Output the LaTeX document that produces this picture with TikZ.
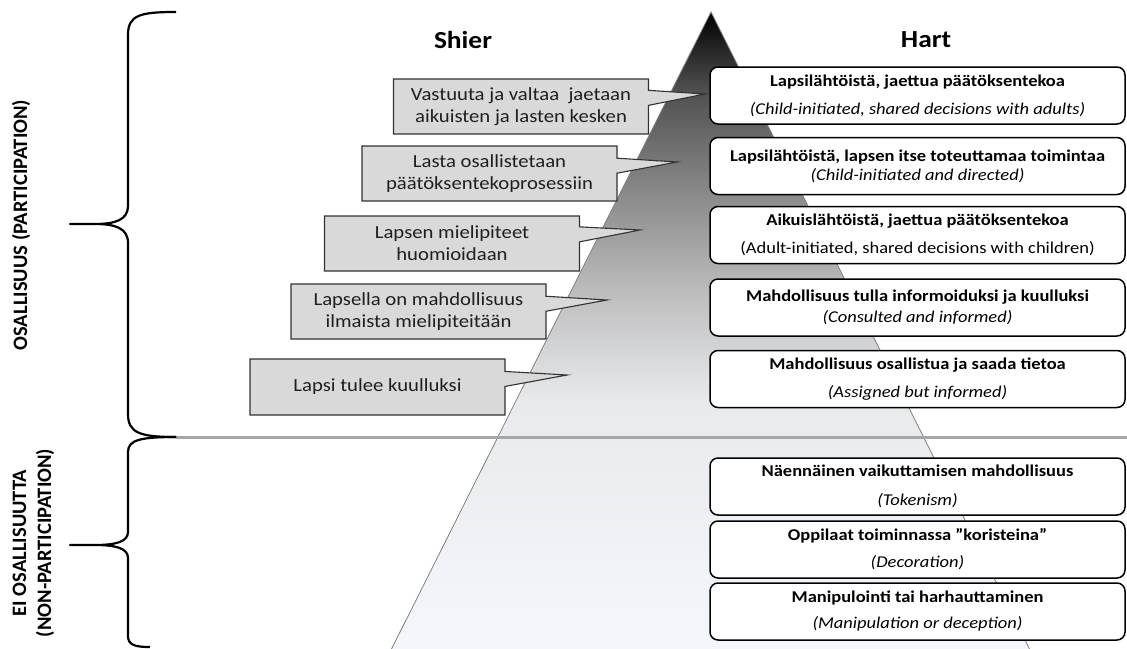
\documentclass[tikz,border=0pt]{standalone}
\usepackage{fontspec}
\setmainfont{Carlito}[FakeStretch=1.12]
\newfontfamily\sidefont{Carlito}
\usepackage{tikz}
\usetikzlibrary{shapes.callouts,positioning}
\definecolor{boxgray}{HTML}{D9D9D9}
\definecolor{rulegray}{HTML}{A6A6A6}
\definecolor{pyrlow}{HTML}{F4F8FC}
\definecolor{pyrmid}{HTML}{E8EAED}
\pgfdeclareverticalshading{pyramid}{100bp}{color(0bp)=(pyrlow); color(25bp)=(pyrlow); color(45bp)=(pyrmid); color(53bp)=(black!25); color(61bp)=(black!46); color(69bp)=(black!69); color(75bp)=(black); color(100bp)=(black)}

\begin{document}
\begin{tikzpicture}[x=1pt,y=-1pt,
	shier/.style={rectangle callout, draw=black!80, line width=1.1, fill=boxgray, minimum width=255, minimum height=55, callout pointer width=15, align=center, text=black!88, font=\fontsize{18.5}{22}\selectfont},
	hart/.style={draw, line width=1.5, rounded corners=8, fill=white, minimum width=415, minimum height=57, align=center, font=\fontsize{16.5}{19}\selectfont},
	brace/.style={line width=2.2, line join=round},
	side/.style={rotate=90, align=center, font=\sidefont\bfseries\fontsize{20.5}{25}\selectfont}]
	\useasboundingbox (0,0) rectangle (1127,648);
	\fill[white] (0,0) rectangle (1127,648);
	% pyramid
	\shade[shading=pyramid, draw=black!50, line width=0.8] (711,12) -- (386,660) -- (1035,660) -- cycle;
	\draw[rulegray, line width=3] (176,437) -- (1127,437);
	% braces
	\draw[brace] (176,12) .. controls (140,12) and (128,15) .. (128,35) -- (128,206) .. controls (128,220) and (115,224) .. (95,224) -- (70,224) -- (95,224) .. controls (115,224) and (128,228) .. (128,243) -- (128,414) .. controls (128,433) and (140,437) .. (176,437);
	\draw[brace] (176,437) .. controls (140,437) and (128,440) .. (128,452) -- (128,532) .. controls (128,542) and (115,545) .. (95,545) -- (70,545) -- (95,545) .. controls (115,545) and (128,548) .. (128,558) -- (128,636) .. controls (128,645) and (135,647) .. (150,647);
	\node[side] (part) at (21,225) {OSALLISUUS (PARTICIPATION)};
	\node[side] (nonpart) at (33.5,543) {EI OSALLISUUTTA\\(NON-PARTICIPATION)};
	% headings
	\node[font=\bfseries\fontsize{24.5}{28}\selectfont] (shier) at (463,40) {Shier};
	\node[font=\bfseries\fontsize{24.5}{28}\selectfont] (hart) at (926,40) {Hart};
	% Shier
	\node[shier, callout absolute pointer={(705,94)}] (s_5) at (521,106.5) {Vastuuta ja valtaa\ \ jaetaan\\aikuisten ja lasten kesken};
	\node[shier, callout absolute pointer={(677,162)}] (s_4) at (489.5,173.5) {Lasta osallistetaan\\päätöksentekoprosessiin};
	\node[shier, callout absolute pointer={(640,230)}] (s_3) at (452,243.5) {Lapsen mielipiteet\\huomioidaan};
	\node[shier, callout absolute pointer={(607,300)}] (s_2) at (418.5,311.5) {Lapsella on mahdollisuus\\ilmaista mielipiteitään};
	\node[shier, callout absolute pointer={(567,375)}, minimum height=56] (s_1) at (377.5,387) {Lapsi tulee kuulluksi};
	% Hart
	\node[hart] (h_8) at (917.5,95.5) {\textbf{Lapsilähtöistä, jaettua päätöksentekoa}\\[9pt]\textit{(Child-initiated, shared decisions with adults)}};
	\node[hart] (h_7) at (917.5,166) {\textbf{Lapsilähtöistä, lapsen itse toteuttamaa toimintaa}\\\textit{(Child-initiated and directed)}};
	\node[hart] (h_6) at (917.5,235) {\textbf{Aikuislähtöistä, jaettua päätöksentekoa}\\[9pt](Adult-initiated, shared decisions with children)};
	\node[hart] (h_5) at (917.5,307.5) {\textbf{Mahdollisuus tulla informoiduksi ja kuulluksi}\\[2pt]\textit{(Consulted and informed)}};
	\node[hart] (h_4) at (917.5,379) {\textbf{Mahdollisuus osallistua ja saada tietoa}\\[9pt]\textit{(Assigned but informed)}};
	\node[hart] (h_3) at (917.5,486.5) {\textbf{Näennäinen vaikuttamisen mahdollisuus}\\[10pt]\textit{(Tokenism)}};
	\node[hart] (h_2) at (917.5,549.5) {\textbf{Oppilaat toiminnassa ”koristeina”}\\[8pt]\textit{(Decoration)}};
	\node[hart] (h_1) at (917.5,611.5) {\textbf{Manipulointi tai harhauttaminen}\\[7pt]\textit{(Manipulation or deception)}};
\end{tikzpicture}
\end{document}
